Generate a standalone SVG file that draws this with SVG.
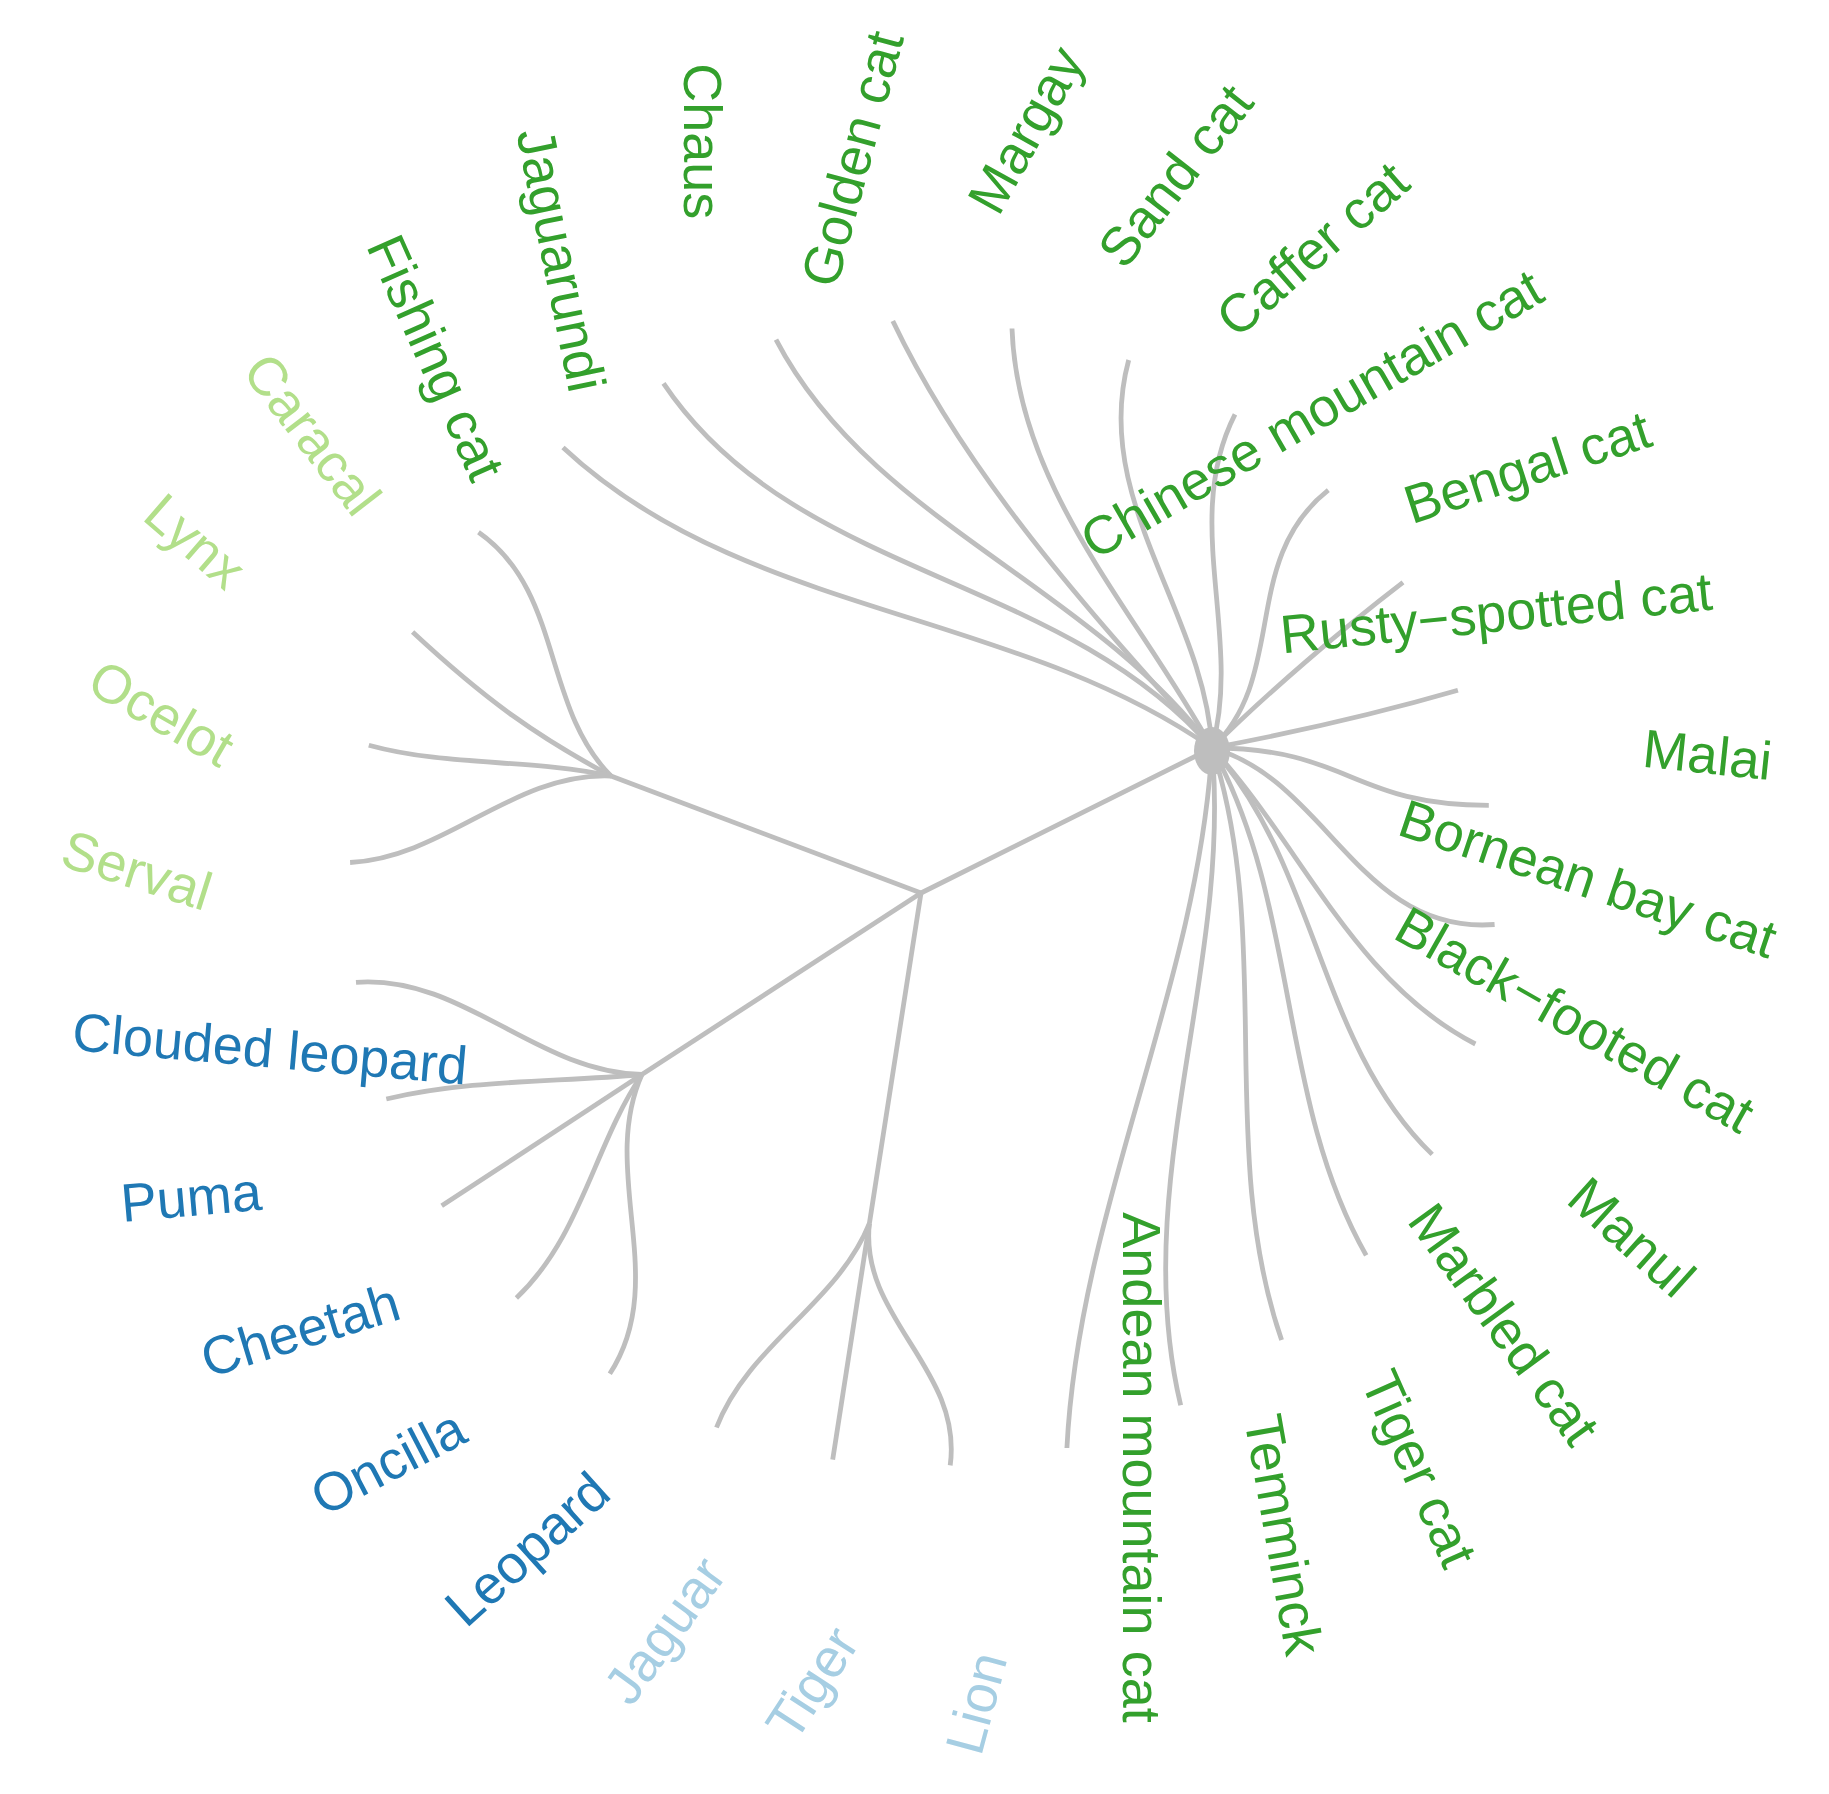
<svg xmlns="http://www.w3.org/2000/svg" width="1829" height="1794" viewBox="0 0 1829 1794">
<style>
.e{fill:none;stroke:#bebebe;stroke-width:4.8}
text{font-family:"Liberation Sans",Arial,Helvetica,sans-serif;font-size:54px;text-anchor:middle}
.g{fill:#33a02c}.lg{fill:#b2df8a}.b{fill:#1f78b4}.lb{fill:#a6cee3}
</style>
<rect width="1829" height="1794" fill="#ffffff"/>
<g id="edges" class="e">
<path d="M921,893 L611,776"/>
<path d="M921,893 L641.9,1074.5"/>
<path d="M921,893 L869.4,1223.3"/>
<path d="M921,893 L1212,748"/>
<path d="M611,776 C542,707 563,591 478.5,532.2"/>
<path d="M611,776 C538.4,737.3 487.3,701.5 412.6,632"/>
<path d="M611,776 C531,758.4 448.2,766.9 368.8,745.2"/>
<path d="M611,776 C513.7,772 445,857.8 350.1,862.5"/>
<path d="M641.9,1074.5 C535.8,1072.4 462.6,974.3 356,982.3"/>
<path d="M641.9,1074.5 C557,1082.5 472.3,1079 386.3,1099"/>
<path d="M641.9,1074.5 L441.7,1205.8"/>
<path d="M641.9,1074.5 C593.6,1146.3 581.2,1236.6 516.4,1298"/>
<path d="M641.9,1074.5 C598.2,1172.6 670.8,1280.2 609.8,1373.8"/>
<path d="M869.4,1223.3 C836.9,1304.1 748,1344.9 716.5,1427.5"/>
<path d="M869.4,1223.3 L832.7,1459.6"/>
<path d="M869.4,1223.3 C859,1318.3 963.2,1368.8 950.2,1465.4"/>
<path d="M1212,748 C1011,608 743,616 563,447.6"/>
<path d="M1212,748 C1059,572 795,579 663.5,383.4"/>
<path d="M1212,748 C1089,584 870,520 776,339.6"/>
<path d="M1212,748 C1094,617 968,479 892.8,321"/>
<path d="M1212,748 C1137.5,612 1017.6,490 1012,328.5"/>
<path d="M1212,748 C1205,613 1090.5,500 1128.7,360"/>
<path d="M1212,748 C1243,637 1181,520 1235,414.3"/>
<path d="M1212,748 C1288.6,675.6 1239.7,560 1328.3,490.2"/>
<path d="M1212,748 C1267,693 1343,628.4 1403,582.4"/>
<path d="M1212,748 C1292,733 1383,712 1457.9,690.3"/>
<path d="M1212,748 C1350,748 1351,805.3 1488.8,805.3"/>
<path d="M1212,748 C1326.5,779 1359,935 1494.6,924.5"/>
<path d="M1212,748 C1301,844.3 1352.8,980.9 1475.4,1044"/>
<path d="M1212,748 C1318.4,867.7 1318,1043.8 1432.2,1154.4"/>
<path d="M1212,748 C1299.6,906 1277.6,1100 1366.2,1255.4"/>
<path d="M1212,748 C1274.8,940 1215.7,1150 1281.6,1340"/>
<path d="M1212,748 C1232,970 1128,1185 1180.7,1405.3"/>
<path d="M1212,748 C1198,987.5 1079,1207.6 1066.9,1448"/>
<ellipse cx="1212" cy="751" rx="18" ry="24" fill="#bebebe" stroke="none"/>
</g>
<g id="caracal"><text class="lg" transform="translate(312.5,434) rotate(52.5)" dy="0.35em">Caracal</text></g>
<g id="lynx"><text class="lg" transform="translate(195.5,541) rotate(41)" dy="0.35em">Lynx</text></g>
<g id="ocelot"><text class="lg" transform="translate(161.6,713) rotate(30)" dy="0.35em">Ocelot</text></g>
<g id="serval"><text class="lg" transform="translate(137,870) rotate(17.5)" dy="0.35em">Serval</text></g>
<g id="clouded-leopard"><text class="b" transform="translate(270,1048.5) rotate(5)" dy="0.35em">Clouded leopard</text></g>
<g id="puma"><text class="b" transform="translate(191,1197) rotate(-5)" dy="0.35em">Puma</text></g>
<g id="cheetah"><text class="b" transform="translate(300,1330) rotate(-17)" dy="0.35em">Cheetah</text></g>
<g id="oncilla"><text class="b" transform="translate(388,1462) rotate(-27.5)" dy="0.35em">Oncilla</text></g>
<g id="leopard"><text class="b" transform="translate(527,1549) rotate(-42)" dy="0.35em">Leopard</text></g>
<g id="jaguar"><text class="lb" transform="translate(664.5,1630) rotate(-54)" dy="0.35em">Jaguar</text></g>
<g id="tiger"><text class="lb" transform="translate(812,1683) rotate(-57)" dy="0.35em">Tiger</text></g>
<g id="lion"><text class="lb" transform="translate(976,1703) rotate(-75)" dy="0.35em">Lion</text></g>
<g id="andean-mountain-cat"><text class="g" transform="translate(1142,1467.5) rotate(90)" dy="0.35em">Andean mountain cat</text></g>
<g id="temminck"><text class="g" transform="translate(1283.7,1534.6) rotate(80)" dy="0.35em">Temminck</text></g>
<g id="tiger-cat"><text class="g" transform="translate(1419.6,1468.4) rotate(66)" dy="0.35em">Tiger cat</text></g>
<g id="marbled-cat"><text class="g" transform="translate(1504.2,1323.9) rotate(54)" dy="0.35em">Marbled cat</text></g>
<g id="manul"><text class="g" transform="translate(1631.8,1237) rotate(42)" dy="0.35em">Manul</text></g>
<g id="black-footed-cat"><text class="g" transform="translate(1575,1019.5) rotate(29.5)" dy="0.35em">Black−footed cat</text></g>
<g id="bornean-bay-cat"><text class="g" transform="translate(1588,878.4) rotate(18.5)" dy="0.35em">Bornean bay cat</text></g>
<g id="malai"><text class="g" transform="translate(1707.5,754.5) rotate(6)" dy="0.35em">Malai</text></g>
<g id="rusty-spotted-cat"><text class="g" transform="translate(1496.1,612.7) rotate(-5.8)" dy="0.35em">Rusty−spotted cat</text></g>
<g id="bengal-cat"><text class="g" transform="translate(1527.3,466.8) rotate(-18)" dy="0.35em">Bengal cat</text></g>
<g id="chinese-mountain-cat"><text class="g" transform="translate(1311.4,413.7) rotate(-30)" dy="0.35em">Chinese mountain cat</text></g>
<g id="caffer-cat"><text class="g" transform="translate(1312.3,248.9) rotate(-41)" dy="0.35em">Caffer cat</text></g>
<g id="sand-cat"><text class="g" transform="translate(1175.1,175.6) rotate(-52)" dy="0.35em">Sand cat</text></g>
<g id="margay"><text class="g" transform="translate(1025.7,129.8) rotate(-61)" dy="0.35em">Margay</text></g>
<g id="golden-cat"><text class="g" transform="translate(852,158.7) rotate(-75)" dy="0.35em">Golden cat</text></g>
<g id="chaus"><text class="g" transform="translate(702.6,141.2) rotate(90)" dy="0.35em">Chaus</text></g>
<g id="jaguarundi"><text class="g" transform="translate(561.4,259.7) rotate(78.5)" dy="0.35em">Jaguarundi</text></g>
<g id="fishing-cat"><text class="g" transform="translate(436.2,357.4) rotate(66)" dy="0.35em">Fishing cat</text></g>
</svg>
